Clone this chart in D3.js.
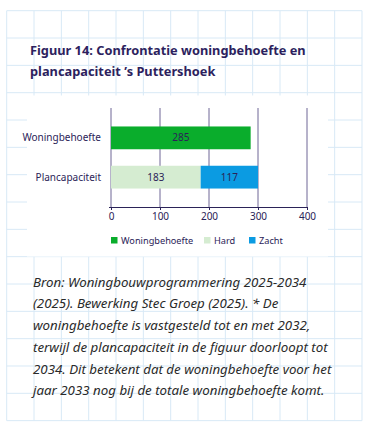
<!DOCTYPE html>
<html>
<head>
<meta charset="utf-8">
<script src="https://cdn.jsdelivr.net/npm/d3@7"></script>
<style>
  body { margin: 0; background: #fff; }
  svg { display: block; }
</style>
</head>
<body>
<script>
// data
var categories = ["Woningbehoefte", "Plancapaciteit"];
var seriesNames = ["Woningbehoefte", "Hard", "Zacht"];
var woningbehoefte = [285, 0];
var hard = [0, 183];
var zacht = [0, 117];
var xTicks = [0, 100, 200, 300, 400];
var titleLines = ["Figuur 14: Confrontatie woningbehoefte en", "plancapaciteit \u2019s Puttershoek"];
var noteLines = [
  "Bron: Woningbouwprogrammering 2025-2034",
  "(2025). Bewerking Stec Groep (2025). * De",
  "woningbehoefte is vastgesteld tot en met 2032,",
  "terwijl de plancapaciteit in de figuur doorloopt tot",
  "2034. Dit betekent dat de woningbehoefte voor het",
  "jaar 2033 nog bij de totale woningbehoefte komt."
];

var W = 375, H = 434;
var navy = "#2b2358";
var colors = d3.scaleOrdinal(seriesNames, ["#0aad2c", "#d5ecd1", "#0b9be2"]);
var font = "'Noto Sans', sans-serif";

var svg = d3.select("body").append("svg")
  .attr("width", W).attr("height", H);

// 1. background grid (13 x 15 squares)
var gx0 = 6.7, gy0 = 10.7, cell = 27.33;
var grid = svg.append("g").attr("stroke", "#d8e9f6").attr("stroke-width", 1);
d3.range(14).forEach(function(i) {
  grid.append("line")
    .attr("x1", gx0 + i * cell).attr("x2", gx0 + i * cell)
    .attr("y1", gy0).attr("y2", gy0 + 15 * cell);
});
d3.range(16).forEach(function(j) {
  grid.append("line")
    .attr("x1", gx0).attr("x2", gx0 + 13 * cell)
    .attr("y1", gy0 + j * cell).attr("y2", gy0 + j * cell);
});

// white block behind the chart
svg.append("rect")
  .attr("x", 27).attr("y", 95.5).attr("width", 301).attr("height", 161)
  .attr("fill", "#fff");

// 2. title
svg.append("g").selectAll("text")
  .data(titleLines)
  .enter().append("text")
  .attr("x", 30)
  .attr("y", function(d, i) { return 55 + i * 21; })
  .attr("fill", "#2d1f5e")
  .style("font-family", font)
  .style("font-weight", "bold")
  .style("font-size", "12.8px")
  .text(function(d) { return d; });

// 3. scales
var xScale = d3.scaleLinear().domain([0, 400]).range([111, 307]);
var yScale = d3.scaleBand().domain(categories).range([108, 207])
  .paddingInner(0.42).paddingOuter(0.47);

var table = categories.map(function(c, i) {
  return { cat: c, Woningbehoefte: woningbehoefte[i], Hard: hard[i], Zacht: zacht[i] };
});
var stacked = d3.stack().keys(seriesNames)(table);

// gridlines
svg.append("g").selectAll("line")
  .data(xTicks)
  .enter().append("line")
  .attr("x1", function(d) { return xScale(d); })
  .attr("x2", function(d) { return xScale(d); })
  .attr("y1", 108).attr("y2", 207)
  .attr("stroke", "#6e6796").attr("stroke-width", 1);

// bars
var layers = svg.append("g").selectAll("g")
  .data(stacked)
  .enter().append("g")
  .attr("fill", function(d) { return colors(d.key); });

layers.selectAll("rect")
  .data(function(d) { return d.filter(function(p) { return p[1] - p[0] > 0; }); })
  .enter().append("rect")
  .attr("x", function(d) { return xScale(d[0]); })
  .attr("y", function(d) { return yScale(d.data.cat); })
  .attr("width", function(d) { return xScale(d[1]) - xScale(d[0]); })
  .attr("height", yScale.bandwidth());

layers.selectAll("text")
  .data(function(d) { return d.filter(function(p) { return p[1] - p[0] > 0; }); })
  .enter().append("text")
  .attr("x", function(d) { return (xScale(d[0]) + xScale(d[1])) / 2; })
  .attr("y", function(d) { return yScale(d.data.cat) + yScale.bandwidth() / 2; })
  .attr("dy", "0.35em")
  .attr("text-anchor", "middle")
  .attr("fill", navy)
  .style("font-family", font)
  .style("font-size", "10px")
  .text(function(d) { return d[1] - d[0]; });

// x axis
var xAxis = d3.axisBottom(xScale).tickValues(xTicks).tickSize(3).tickPadding(3);
var gx = svg.append("g")
  .attr("transform", "translate(0,207)")
  .call(xAxis);
gx.select(".domain").attr("d", "M109,0.5H" + xScale(400)).attr("stroke", navy);
gx.selectAll(".tick line").attr("stroke", navy);
gx.selectAll(".tick text")
  .attr("fill", navy)
  .style("font-family", font)
  .style("font-size", "10px");

// category labels
svg.append("g").selectAll("text")
  .data(categories)
  .enter().append("text")
  .attr("x", 101)
  .attr("y", function(d) { return yScale(d) + yScale.bandwidth() / 2; })
  .attr("dy", "0.35em")
  .attr("text-anchor", "end")
  .attr("fill", navy)
  .style("font-family", font)
  .style("font-size", "10px")
  .text(function(d) { return d; });

// 4. legend
var legendX = [111, 204, 249];
var legend = svg.append("g").selectAll("g")
  .data(seriesNames)
  .enter().append("g")
  .attr("transform", function(d, i) { return "translate(" + legendX[i] + ",237)"; });
legend.append("rect")
  .attr("width", 6.5).attr("height", 6.5)
  .attr("fill", function(d) { return colors(d); });
legend.append("text")
  .attr("x", 10).attr("y", 6.5)
  .attr("fill", navy)
  .style("font-family", font)
  .style("font-size", "9.2px")
  .text(function(d) { return d; });

// 5. source note
svg.append("g").selectAll("text")
  .data(noteLines)
  .enter().append("text")
  .attr("x", 33)
  .attr("y", function(d, i) { return 286.7 + i * 21.7; })
  .attr("fill", "#2a2a2a")
  .style("font-family", font)
  .style("font-style", "italic")
  .style("font-size", "13.3px")
  .text(function(d) { return d; });
</script>
</body>
</html>
